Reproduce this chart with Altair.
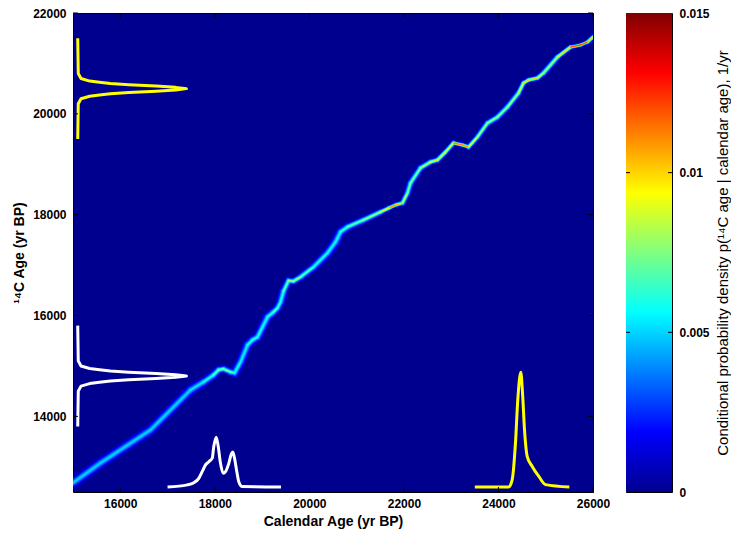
import altair as alt
import pandas as pd

# ---- data ----
# calibration curve: calendar age -> 14C age, with peak conditional density (1e-3 per yr)
cal_age = [15000, 15582, 16639, 17486, 17761, 17972, 18078, 18184, 18332, 18417,
           18544, 18692, 18797, 18903, 19009, 19115, 19241, 19326, 19390, 19453,
           19559, 19665, 19813, 20088, 20384, 20553, 20659, 20807, 21145, 21505,
           21700, 21822, 21970, 22076, 22140, 22351, 22563, 22711, 22880, 23049,
           23240, 23367, 23557, 23769, 23980, 24192, 24425, 24531, 24637, 24827,
           24954, 25250, 25525, 25737, 25885, 26000]
c14_age = [12680, 13075, 13730, 14523, 14682, 14820, 14920, 14940, 14880, 14860,
           15078, 15415, 15515, 15574, 15772, 15971, 16070, 16149, 16268, 16480,
           16690, 16680, 16764, 16962, 17240, 17458, 17657, 17756, 17895, 18053,
           18140, 18192, 18232, 18430, 18628, 18926, 19045, 19085, 19243, 19422,
           19382, 19342, 19541, 19818, 19937, 20136, 20413, 20612, 20671, 20711,
           20810, 21127, 21325, 21365, 21425, 21524]
peak_density = [5.0, 5.0, 5.0, 5.1, 5.6, 6.2, 7.3, 7.8, 7.3, 6.2,
                5.2, 5.7, 6.2, 6.2, 5.7, 5.7, 6.5, 6.8, 5.7, 6.2,
                7.8, 8.4, 7.3, 6.2, 5.7, 5.5, 5.9, 6.6, 7.4, 8.4,
                11.5, 12.5, 9.5, 7.6, 7.2, 7.8, 9.5, 10.0, 8.4, 11.0,
                13.0, 10.5, 8.4, 7.9, 7.9, 7.9, 8.4, 10.0, 11.0, 9.5,
                8.4, 8.0, 12.5, 13.5, 12.0, 9.5]

# 14C measurement densities (drawn vertically at the left edge)
yellow_v_c14 = [19500, 20200, 20300, 20350, 20375, 20400, 20425, 20450, 20475, 20500,
                20525, 20550, 20575, 20600, 20625, 20650, 20700, 20800, 21500]
yellow_v_rel = [0, 0.005, 0.03, 0.11, 0.20, 0.30, 0.47, 0.72, 0.90, 1.0,
                0.90, 0.72, 0.47, 0.30, 0.20, 0.11, 0.03, 0.005, 0]
white_v_c14 = [13800, 14500, 14600, 14650, 14675, 14700, 14725, 14750, 14775, 14800,
               14825, 14850, 14875, 14900, 14925, 14950, 15000, 15100, 15800]
white_v_rel = [0, 0.005, 0.03, 0.11, 0.20, 0.30, 0.47, 0.72, 0.90, 1.0,
               0.90, 0.72, 0.47, 0.30, 0.20, 0.11, 0.03, 0.005, 0]

# calendar-age densities (drawn horizontally at the bottom edge), 1e-3 per yr
white_h_cal = [17000, 17416, 17555, 17661, 17733, 17803, 17873, 17945, 17978, 18029,
               18072, 18120, 18177, 18226, 18296, 18350, 18380, 18420, 18459, 18507,
               18579, 19400]
white_h_dens = [0, 0.14, 0.29, 0.59, 1.04, 1.50, 1.72, 1.96, 2.75, 3.39,
                2.75, 1.61, 0.93, 1.04, 1.61, 2.25, 2.38, 1.91, 1.16, 0.36,
                0.03, 0]
yellow_h_cal = [23500, 24219, 24291, 24360, 24409, 24473, 24509, 24551, 24608, 24714,
                24854, 24996, 25500]
yellow_h_dens = [0, 0, 0.50, 3.0, 5.95, 7.81, 6.41, 3.90, 2.09, 1.40,
                 0.72, 0.16, 0]

x_ticks = [16000, 18000, 20000, 22000, 24000, 26000]
y_ticks = [14000, 16000, 18000, 20000, 22000]
cb_ticks = [0, 0.005, 0.01, 0.015]

# ---- styling ----
FONT = "Liberation Sans"
W, H = 520, 479
CBW = 46
jet_domain = [0, 0.001875, 0.005625, 0.009375, 0.013125, 0.015]
jet_colors = ["#00008F", "#0000FF", "#00FFFF", "#FFFF00", "#FF0000", "#800000"]
jet = alt.Scale(domain=jet_domain, range=jet_colors, interpolate="rgb", clamp=True)

xs = alt.Scale(domain=[15000, 26000], nice=False, zero=False)
ys = alt.Scale(domain=[12500, 22000], nice=False, zero=False)
xaxis = alt.Axis(values=x_ticks, format="d", title="Calendar Age (yr BP)",
                 labelFlush=False, labelPadding=6, titlePadding=5)
yaxis = alt.Axis(values=y_ticks, format="d", title="\u00b9\u2074C Age (yr BP)",
                 labelPadding=7, titlePadding=6)


def X(f):
    return alt.X(f, scale=xs, axis=xaxis)


def Y(f):
    return alt.Y(f, scale=ys, axis=yaxis)


# calibration band as glowing segments
cal_df = pd.DataFrame({"cal": cal_age, "c14": c14_age, "d": peak_density})
cal_df["cal2"] = cal_df["cal"].shift(-1)
cal_df["c142"] = cal_df["c14"].shift(-1)
cal_df["d2"] = cal_df["d"].shift(-1)
seg = cal_df.dropna().copy()
seg["dm"] = (seg["d"] + seg["d2"]) / 2

layers = []
for f, k in [(0.15, 3.9), (0.35, 2.9), (0.6, 2.0), (0.85, 1.15), (1.0, 0.5)]:
    layers.append(
        alt.Chart(seg).transform_calculate(
            val=f"{f}*datum.dm/1000", w=f"{k}*15/datum.dm"
        ).mark_rule(strokeCap="round", clip=True).encode(
            x=X("cal:Q"), x2="cal2:Q", y=Y("c14:Q"), y2="c142:Q",
            color=alt.Color("val:Q", scale=jet, legend=None),
            size=alt.Size("w:Q", scale=None),
        )
    )

# vertical densities
def vcurve(c14s, rel, color):
    df = pd.DataFrame({"c14": c14s, "rel": rel})
    return alt.Chart(df).transform_calculate(
        xpos="15100 + datum.rel*2300"
    ).mark_line(color=color, strokeWidth=3, strokeJoin="round").encode(
        x=X("xpos:Q"), y=Y("c14:Q"), order="c14:Q"
    )


def hcurve(cals, dens, color):
    df = pd.DataFrame({"cal": cals, "dens": dens})
    return alt.Chart(df).transform_calculate(
        ypos="12600 + datum.dens*291"
    ).mark_line(color=color, strokeWidth=3, interpolate="monotone",
                strokeJoin="round").encode(
        x=X("cal:Q"), y=Y("ypos:Q"), order="cal:Q"
    )


layers += [
    vcurve(yellow_v_c14, yellow_v_rel, "#FFFF00"),
    vcurve(white_v_c14, white_v_rel, "#FFFFFF"),
    hcurve(white_h_cal, white_h_dens, "#FFFFFF"),
    hcurve(yellow_h_cal, yellow_h_dens, "#FFFF00"),
]

# inward ticks (MATLAB style)
xt = pd.DataFrame({"t": x_ticks})
yt = pd.DataFrame({"t": y_ticks})
layers += [
    alt.Chart(xt).mark_rule(color="black").encode(x=X("t:Q"), y=alt.value(0), y2=alt.value(5)),
    alt.Chart(xt).mark_rule(color="black").encode(x=X("t:Q"), y=alt.value(H), y2=alt.value(H - 5)),
    alt.Chart(yt).mark_rule(color="black").encode(y=Y("t:Q"), x=alt.value(0), x2=alt.value(5)),
    alt.Chart(yt).mark_rule(color="black").encode(y=Y("t:Q"), x=alt.value(W), x2=alt.value(W - 5)),
]

main = alt.layer(*layers).properties(width=W, height=H)

# colorbar
cbs = alt.Scale(domain=[cb_ticks[0], cb_ticks[-1]], nice=False, zero=False)
cbaxis = alt.Axis(values=cb_ticks, format=".3~f", orient="right",
                  title="Conditional probability density p(\u00b9\u2074C age | calendar age), 1/yr",
                  titleFontWeight="normal", titleFontSize=15, titleAngle=270,
                  titlePadding=21, labelPadding=7)
cb_df = pd.DataFrame({"lo": [cb_ticks[0]], "hi": [cb_ticks[-1]]})
grad = alt.Gradient(
    gradient="linear", x1=0, x2=0, y1=1, y2=0,
    stops=[alt.GradientStop(color=c, offset=o / jet_domain[-1])
           for c, o in zip(jet_colors, jet_domain)],
)
cbar_rect = alt.Chart(cb_df).mark_rect(fill=grad).encode(
    x=alt.value(0), x2=alt.value(CBW),
    y=alt.Y("lo:Q", scale=cbs, axis=cbaxis), y2="hi:Q",
)
cbt = pd.DataFrame({"t": cb_ticks[1:-1]})
cbar = alt.layer(
    cbar_rect,
    alt.Chart(cbt).mark_rule(color="black").encode(
        y=alt.Y("t:Q", scale=cbs, axis=cbaxis), x=alt.value(0), x2=alt.value(4)),
    alt.Chart(cbt).mark_rule(color="black").encode(
        y=alt.Y("t:Q", scale=cbs, axis=cbaxis), x=alt.value(CBW - 4), x2=alt.value(CBW)),
).properties(width=CBW, height=H)

chart = alt.hconcat(main, cbar, spacing=33, bounds="flush").properties(
    padding={"left": 4, "top": -2, "right": 0, "bottom": 0},
    background="white",
).configure_view(
    fill="#00008F", stroke="black", strokeWidth=1
).configure_axis(
    labelFont=FONT, labelFontSize=12, labelFontWeight="bold", labelColor="black",
    titleFont=FONT, titleFontSize=14, titleFontWeight="bold", titleColor="black",
    grid=False, domain=False, ticks=False,
)

chart.save("out.html", embed_options={"renderer": "svg", "actions": False})
